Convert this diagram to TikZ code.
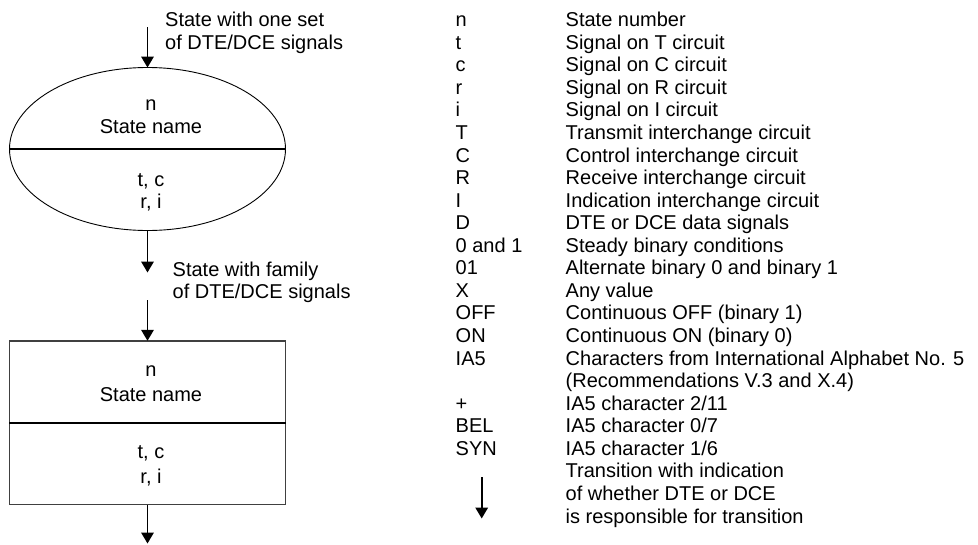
\documentclass[tikz,border=0pt]{standalone}
\usepackage{fontspec}
\setmainfont{Liberation Sans}
\usetikzlibrary{arrows.meta,shapes.geometric}
\tikzset{
  txt/.style={inner sep=0pt, anchor=base, font=\fontsize{20pt}{22.56pt}\selectfont},
  leg/.style={inner sep=0pt, anchor=base west, font=\fontsize{20pt}{22.56pt}\selectfont},
  arr/.style={line width=1.8pt, -{Triangle[width=12.5pt,length=11pt]}, shorten >=-0.5pt},
  divider/.style={line width=2pt},
}
\begin{document}
\begin{tikzpicture}[x=1pt,y=-1pt]
\useasboundingbox (0,0) rectangle (978,544);
% ellipse state
\node[ellipse, draw, line width=0.9pt, minimum width=276pt, minimum height=163pt, inner sep=0pt] (ell) at (147.5,149) {};
\draw[divider] (ell.west) -- (ell.east);
\node[txt] (en) at (151,110) {n};
\node[txt] (esn) at (151,133.3) {State name};
\node[txt] (etc) at (151,186.5) {t, c};
\node[txt] (eri) at (151,208.5) {r, i};
% rectangle state
\node[rectangle, draw=black!75, line width=1.3pt, minimum width=275.5pt, minimum height=163.5pt, inner sep=0pt] (box) at (147.5,422.7) {};
\draw[divider] (box.west) -- (box.east);
\node[txt] (bn) at (151,376) {n};
\node[txt] (bsn) at (151,401.7) {State name};
\node[txt] (btc) at (151,458.3) {t, c};
\node[txt] (bri) at (151,483) {r, i};
% arrows
\coordinate (a1) at (147.5,27);
\coordinate (a2) at (147.5,272);
\coordinate (a3) at (147.5,300);
\coordinate (a4) at (147.5,543);
\draw[arr] (a1) -- (ell.north);
\draw[arr] (ell.south) -- (a2);
\draw[arr] (a3) -- (box.north);
\draw[arr] (box.south) -- (a4);
% labels
\node[leg] (l1a) at (165,26.7) {State with one set};
\node[leg] (l1b) at (165,49.3) {of DTE/DCE signals};
\node[leg] (l2a) at (172.5,276.5) {State with family};
\node[leg] (l2b) at (172.5,298.5) {of DTE/DCE signals};
% legend keys
\foreach \k/\i in {n/0, t/1, c/2, r/3, i/4, T/5, C/6, R/7, I/8, D/9, 0 and 1/10, 01/11, X/12, OFF/13, ON/14, IA5/15, +/17, BEL/18, SYN/19}
  \node[leg] (k\i) at (455.5,{26.7+22.56*\i}) {\k};
% legend descriptions
\foreach \d [count=\i from 0] in {State number, Signal on T circuit, Signal on C circuit, Signal on R circuit, Signal on I circuit, Transmit interchange circuit, Control interchange circuit, Receive interchange circuit, Indication interchange circuit, DTE or DCE data signals, Steady binary conditions, Alternate binary 0 and binary 1, Any value, Continuous OFF (binary 1), Continuous ON (binary 0), Characters from International Alphabet No. 5, (Recommendations V.3 and X.4), IA5 character 2/11, IA5 character 0/7, IA5 character 1/6, Transition with indication, of whether DTE or DCE, is responsible for transition}
  \node[leg] (d\i) at (565.5,{26.7+22.56*\i}) {\d};
% legend arrow
\coordinate (la1) at (481.7,477);
\coordinate (la2) at (481.7,518);
\draw[arr] (la1) -- (la2);
\end{tikzpicture}
\end{document}
